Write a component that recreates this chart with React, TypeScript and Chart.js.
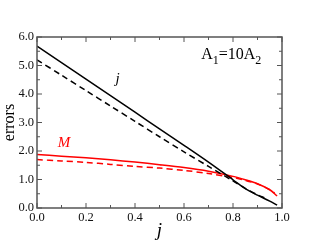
import React, { useEffect, useRef } from "react";
import { Chart, registerables } from "chart.js";

Chart.register(...registerables);

const xValues = [0, 0.1, 0.2, 0.3, 0.4, 0.5, 0.6, 0.7, 0.8, 0.85, 0.9, 0.95, 0.98];
const jSolid = [5.68, 5.1, 4.52, 3.94, 3.36, 2.78, 2.2, 1.61, 0.99, 0.68, 0.45, 0.24, 0.1];
const jDashedX = [0, 0.1, 0.2, 0.3, 0.4, 0.5, 0.6, 0.7, 0.8, 0.85, 0.9, 0.93];
const jDashed = [5.2, 4.66, 4.12, 3.58, 3.04, 2.5, 1.97, 1.46, 0.95, 0.69, 0.46, 0.35];
const mSolid = [1.88, 1.82, 1.76, 1.69, 1.61, 1.52, 1.42, 1.29, 1.11, 0.99, 0.85, 0.64, 0.42];
const mDashedX = [0, 0.1, 0.2, 0.3, 0.4, 0.5, 0.6, 0.7, 0.8, 0.85, 0.9, 0.95, 0.97];
const mDashed = [1.7, 1.65, 1.6, 1.53, 1.46, 1.4, 1.32, 1.21, 1.07, 0.97, 0.84, 0.64, 0.53];

const xMajorTicks = [0, 0.2, 0.4, 0.6, 0.8, 1.0];
const xMinorTicks = [0.1, 0.3, 0.5, 0.7, 0.9];
const yMajorTicks = [0, 1, 2, 3, 4, 5, 6];
const yMinorTicks = [0.5, 1.5, 2.5, 3.5, 4.5, 5.5];

const SERIF = "'Liberation Serif', 'Times New Roman', serif";

const pts = (xs: number[], ys: number[]) => xs.map((x, i) => ({ x, y: ys[i] }));

const framePlugin = {
  id: "frameTicks",
  afterDatasetsDraw(chart: any) {
    const { ctx, chartArea, scales } = chart;
    const xs = scales.x;
    const ys = scales.y;
    ctx.save();
    ctx.strokeStyle = "#555";
    const tick = (x1: number, y1: number, x2: number, y2: number) => {
      ctx.beginPath();
      ctx.moveTo(x1, y1);
      ctx.lineTo(x2, y2);
      ctx.stroke();
    };
    ctx.lineWidth = 1;
    const major = 5;
    const minor = 3;
    xMajorTicks.forEach((v) => {
      const p = xs.getPixelForValue(v);
      tick(p, chartArea.bottom, p, chartArea.bottom - major);
      tick(p, chartArea.top, p, chartArea.top + major);
    });
    xMinorTicks.forEach((v) => {
      const p = xs.getPixelForValue(v);
      tick(p, chartArea.bottom, p, chartArea.bottom - minor);
      tick(p, chartArea.top, p, chartArea.top + minor);
    });
    yMajorTicks.forEach((v) => {
      const p = ys.getPixelForValue(v);
      tick(chartArea.left, p, chartArea.left + major, p);
      tick(chartArea.right, p, chartArea.right - major, p);
    });
    yMinorTicks.forEach((v) => {
      const p = ys.getPixelForValue(v);
      tick(chartArea.left, p, chartArea.left + minor, p);
      tick(chartArea.right, p, chartArea.right - minor, p);
    });
    ctx.lineWidth = 1.5;
    ctx.strokeRect(chartArea.left, chartArea.top, chartArea.right - chartArea.left, chartArea.bottom - chartArea.top);

    // annotations
    ctx.textBaseline = "alphabetic";
    ctx.fillStyle = "#000";
    ctx.font = `italic 15px ${SERIF}`;
    ctx.fillText("j", xs.getPixelForValue(0.32), ys.getPixelForValue(4.37));
    ctx.fillStyle = "#ff0000";
    ctx.font = `italic 15px ${SERIF}`;
    ctx.fillText("M", xs.getPixelForValue(0.085), ys.getPixelForValue(2.14));

    ctx.fillStyle = "#000";
    let ax = xs.getPixelForValue(0.67);
    const ay = ys.getPixelForValue(5.22);
    ctx.font = `16px ${SERIF}`;
    ctx.fillText("A", ax, ay);
    ax += ctx.measureText("A").width;
    ctx.font = `12px ${SERIF}`;
    ctx.fillText("1", ax, ay + 5);
    ax += ctx.measureText("1").width;
    ctx.font = `16px ${SERIF}`;
    ctx.fillText("=10A", ax, ay);
    ax += ctx.measureText("=10A").width;
    ctx.font = `12px ${SERIF}`;
    ctx.fillText("2", ax, ay + 5);
    ctx.restore();
  },
};

export default function App() {
  const ref = useRef<HTMLCanvasElement>(null);
  useEffect(() => {
    if (!ref.current) return;
    const chart = new Chart(ref.current, {
      type: "line",
      data: {
        datasets: [
          { data: pts(xValues, jSolid), borderColor: "#000", borderWidth: 1.5, pointRadius: 0, fill: false, tension: 0.3 },
          { data: pts(jDashedX, jDashed), borderColor: "#000", borderWidth: 1.5, borderDash: [6, 4], pointRadius: 0, fill: false, tension: 0.3 },
          { data: pts(xValues, mSolid), borderColor: "#ff0000", borderWidth: 1.5, pointRadius: 0, fill: false, tension: 0.3 },
          { data: pts(mDashedX, mDashed), borderColor: "#ff0000", borderWidth: 1.5, borderDash: [6, 4], pointRadius: 0, fill: false, tension: 0.3 },
        ],
      },
      options: {
        responsive: false,
        animation: false,
        layout: { padding: { top: 37, right: 35, left: 0, bottom: 0 } },
        plugins: { legend: { display: false }, tooltip: { enabled: false } },
        scales: {
          x: {
            type: "linear",
            min: 0,
            max: 1,
            afterFit: (s: any) => { s.height = 37; },
            grid: { display: false, drawTicks: false },
            border: { display: false },
            ticks: {
              stepSize: 0.2,
              padding: 2,
              color: "#111",
              font: { family: SERIF, size: 12.5 },
              maxRotation: 0,
              callback: (v: any) => Number(v).toFixed(1),
            },
            title: { display: true, text: "j", color: "#000", font: { family: SERIF, size: 19, style: "italic" }, padding: { top: 0, bottom: 3 } },
          },
          y: {
            min: 0,
            max: 6,
            afterFit: (s: any) => { s.width = 37; },
            grid: { display: false, drawTicks: false },
            border: { display: false },
            ticks: {
              stepSize: 1,
              padding: 3,
              color: "#111",
              font: { family: SERIF, size: 12.5 },
              callback: (v: any) => Number(v).toFixed(1),
            },
            title: { display: true, text: "errors", color: "#000", font: { family: SERIF, size: 16 }, padding: { top: 0, bottom: 0 } },
          },
        },
      },
      plugins: [framePlugin],
    });
    return () => chart.destroy();
  }, []);
  return (
    <div style={{ position: "absolute", left: 0, top: 0, width: 317, height: 245, background: "#fff" }}>
      <canvas ref={ref} width={317} height={245} style={{ display: "block" }} />
    </div>
  );
}
